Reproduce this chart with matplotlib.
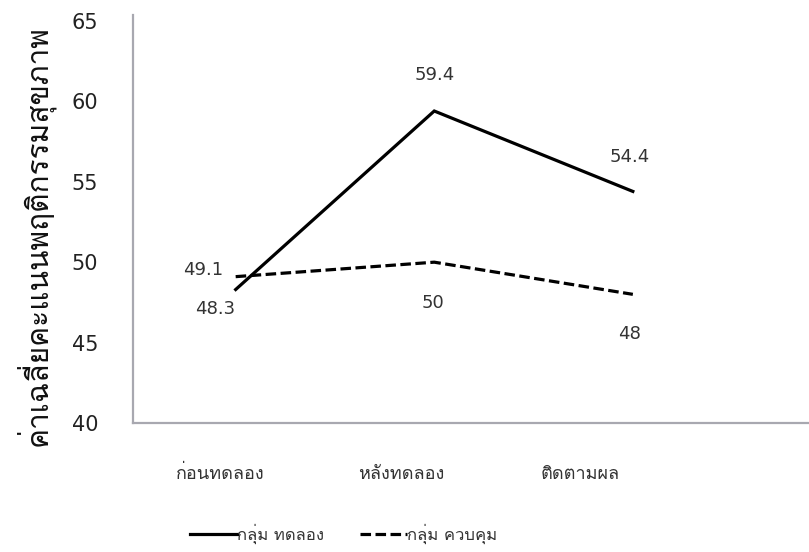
import matplotlib
matplotlib.use("Agg")
import matplotlib.pyplot as plt
import matplotlib.transforms as mtransforms
from matplotlib.lines import Line2D

categories = ["ก่อนทดลอง", "หลังทดลอง", "ติดตามผล"]
experimental = [48.3, 59.4, 54.4]
control = [49.1, 50, 48]
series_names = ["กลุ่ม ทดลอง", "กลุ่ม ควบคุม"]
yticks = [40, 45, 50, 55, 60, 65]
ylabel = "ค่าเฉลี่ยคะแนนพฤติกรรมสุขภาพ"

THAI = ["Loma", "DejaVu Sans"]
NUM = ["DejaVu Sans"]

fig = plt.figure(figsize=(8.09, 5.52), dpi=100)
ax = fig.add_axes([133/809, (552-423)/552, 1 - 133/809, (423-15)/552])

x = list(range(len(categories)))
ax.plot(x, experimental, color="black", lw=2.3, solid_joinstyle="miter")
ax.plot(x, control, color="black", lw=2.3, dashes=(3.3, 1.4))

ax.set_xlim(-0.517, 2.887)
ax.set_ylim(40, 65.37)
ax.set_yticks(yticks)
ax.set_yticklabels([str(v) for v in yticks], fontsize=15, family=NUM, color="#222222")
ax.set_xticks(x)
ax.set_xticklabels(categories, fontsize=13, family=THAI, color="#333333")
ax.tick_params(axis="both", length=0)
ax.tick_params(axis="y", pad=25)
ax.tick_params(axis="x", pad=30)

# the category labels sit slightly left of the data points in the reference
shifts_px = [-15, -33, -53]
for lab, dx in zip(ax.get_xticklabels(), shifts_px):
    lab.set_transform(lab.get_transform() + mtransforms.ScaledTranslation(dx / 100, 0, fig.dpi_scale_trans))

for s in ["top", "right"]:
    ax.spines[s].set_visible(False)
for s in ["left", "bottom"]:
    ax.spines[s].set_color("#a8a8b0")
    ax.spines[s].set_linewidth(1.6)

fig.text(35/809, 1 - 236/552, ylabel, rotation=90, ha="center", va="center",
         family=THAI, fontsize=21.5, color="#111111")

lab_kw = dict(fontsize=13, family=NUM, color="#333333", ha="center", va="center",
              textcoords="offset pixels")
ax.annotate(f"{experimental[0]:g}", (x[0], experimental[0]), xytext=(-21, -19), **lab_kw)
ax.annotate(f"{experimental[1]:g}", (x[1], experimental[1]), xytext=(0, 36), **lab_kw)
ax.annotate(f"{experimental[2]:g}", (x[2], experimental[2]), xytext=(-3, 34), **lab_kw)
ax.annotate(f"{control[0]:g}", (x[0], control[0]), xytext=(-33, 7), **lab_kw)
ax.annotate(f"{control[1]:g}", (x[1], control[1]), xytext=(-1, -41), **lab_kw)
ax.annotate(f"{control[2]:g}", (x[2], control[2]), xytext=(-3, -40), **lab_kw)

handles = [Line2D([], [], color="black", lw=2.3),
           Line2D([], [], color="black", lw=2.3, dashes=(3.3, 1.4))]
leg = fig.legend(handles, series_names, loc="center left", bbox_to_anchor=(190/809, 1 - 534/552),
                 ncol=2, frameon=False, handlelength=2.8, handletextpad=0.0, columnspacing=2.2,
                 prop={"family": THAI, "size": 12}, borderaxespad=0, borderpad=0)
for t in leg.get_texts():
    t.set_color("#333333")

fig.savefig("out.png", dpi=100, facecolor="white")
